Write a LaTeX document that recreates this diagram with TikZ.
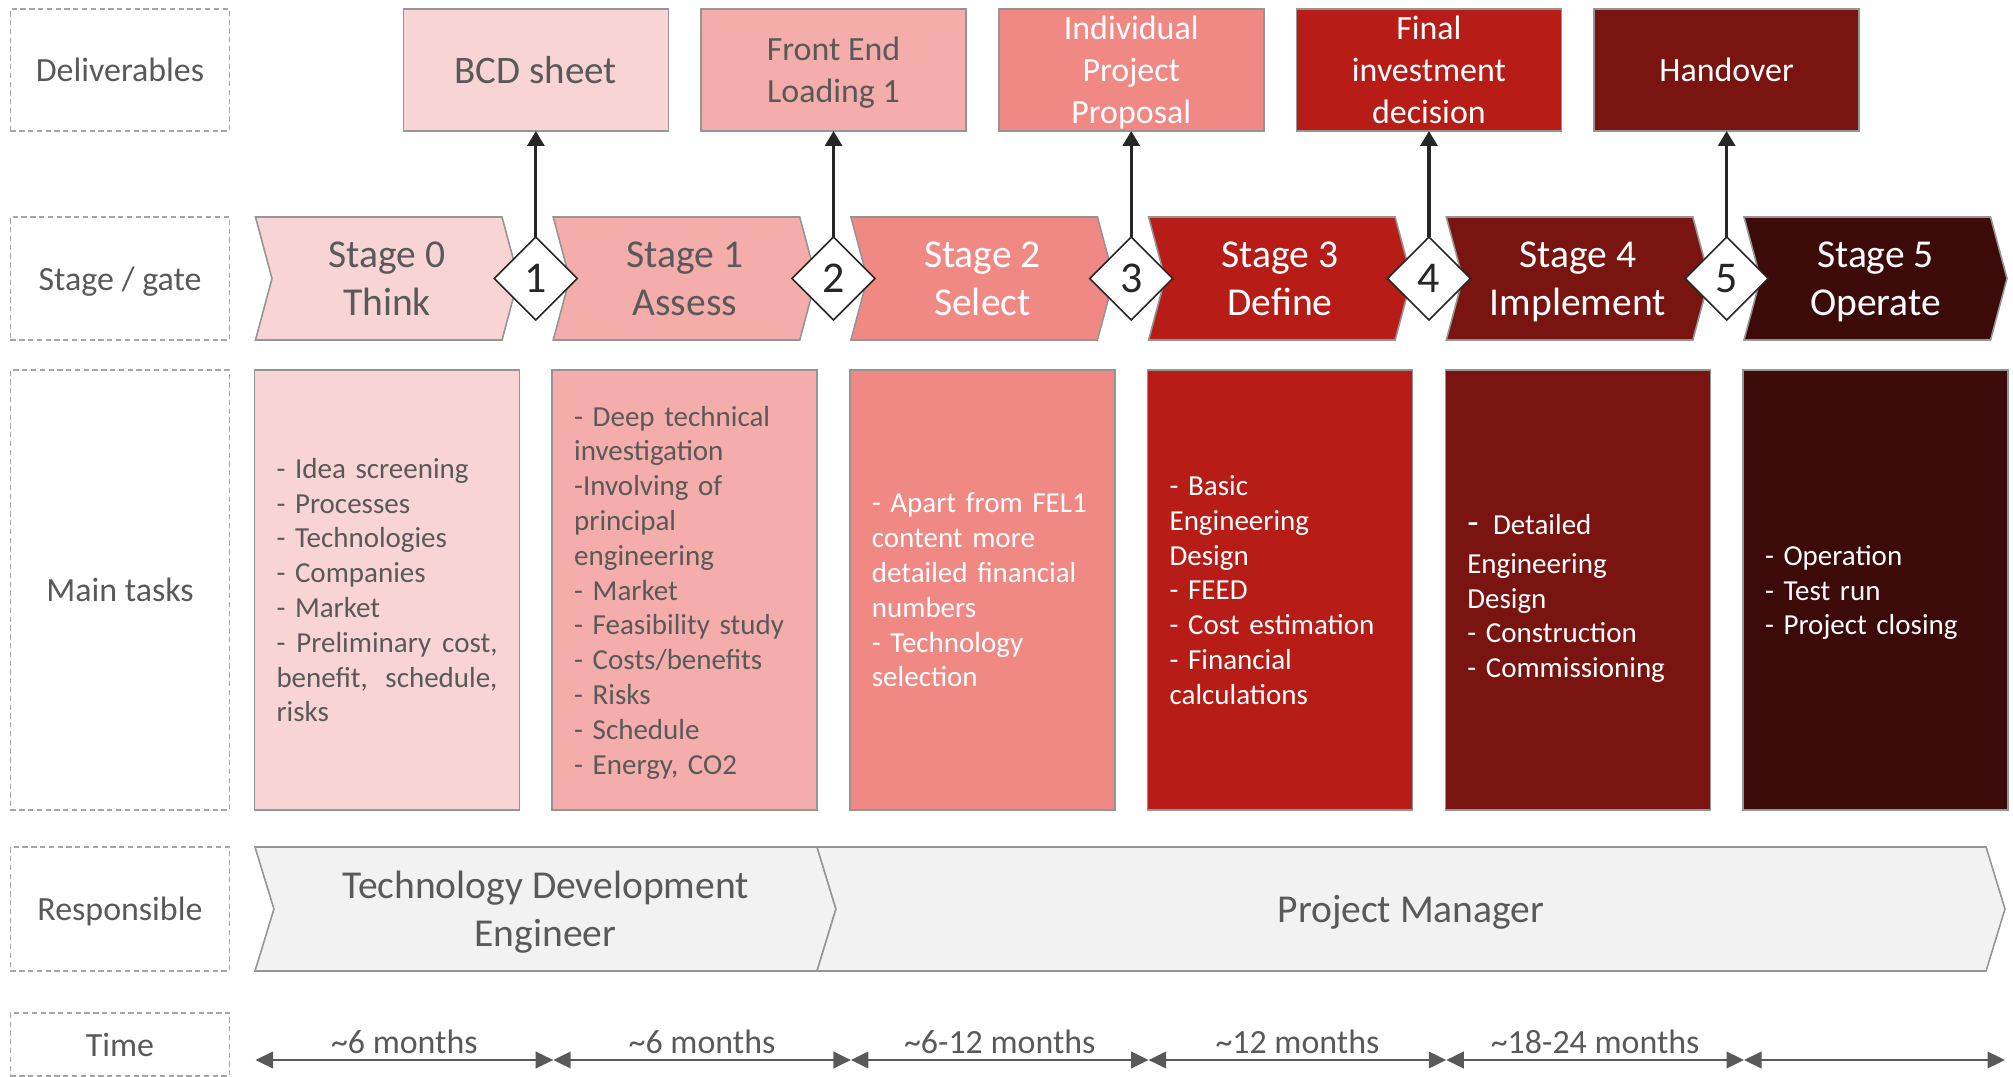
\documentclass[tikz,border=0pt]{standalone}
\usepackage{fontspec}
\setmainfont{Carlito}
\usepackage{tikz}
\usetikzlibrary{
  shapes.geometric, shapes.symbols,
  arrows.meta, positioning
}
\definecolor{stg0}      {HTML}{F8D5D4}
\definecolor{stg1}      {HTML}{F4ADAB}
\definecolor{stg2}      {HTML}{F08884}
\definecolor{stg3}      {HTML}{B71C17}
\definecolor{stg4}      {HTML}{7A1410}
\definecolor{stg5}      {HTML}{3C0A09}
\definecolor{greytext}  {HTML}{595959}
\definecolor{edgegrey}  {HTML}{959595}
\definecolor{dashgrey}  {HTML}{A6A6A6}
\definecolor{rolefill}  {HTML}{F2F2F2}
\definecolor{darkline}  {HTML}{262626}
\definecolor{arrowgrey} {HTML}{595959}

\newcommand\stagefont{\fontsize{22.5}{27.4}\selectfont}
\newcommand\delivfont{\fontsize{19.3}{23.8}\selectfont}
\newcommand\taskfont{\fontsize{16.5}{19.8}\selectfont}
\newcommand\lanefont{\fontsize{19.3}{23}\selectfont}
\newcommand\gatefont{\fontsize{25}{30}\selectfont}

\tikzset{
  lanelabel/.style={
    rectangle, minimum width=4.38cm, outer sep=0pt,
    draw=dashgrey, dash pattern=on 3pt off 2pt, line width=0.9pt,
    text=greytext, font=\lanefont, text depth=0pt
  },
  stagebox/.style={
    signal, signal from=west, signal to=east, signal pointer angle=150,
    minimum width=5.26cm, minimum height=2.46cm, inner sep=0pt,
    draw=edgegrey, line width=0.9pt, fill=#1,
    font=\stagefont, align=center, text depth=0pt
  },
  % last descender left out of the centring
  taskbox/.style={
    rectangle, minimum width=5.3cm, minimum height=8.8cm,
    text width=4.42cm, inner sep=0pt, align=left,
    draw=edgegrey, line width=0.9pt, fill=#1, font=\taskfont,
    execute at end node={\par\vspace{-\prevdepth}}
  },
  delivbox/.style={
    rectangle, minimum width=5.3cm, minimum height=2.44cm,
    inner sep=0pt, outer sep=0pt,
    draw=edgegrey, line width=0.9pt, fill=#1,
    font=\delivfont, align=center, text depth=0pt
  },
  gatenode/.style={
    diamond, aspect=1, minimum width=1.66cm, minimum height=1.66cm,
    inner sep=0pt, outer sep=0pt, draw=darkline, line width=0.9pt,
    fill=white, text=darkline, font=\gatefont
  },
  rolebar/.style={
    signal, signal from=west, signal to=east, signal pointer angle=146,
    minimum height=2.48cm, inner sep=0pt,
    draw=edgegrey, line width=0.9pt, fill=rolefill,
    text=greytext, font=\stagefont, align=center, text depth=0pt
  },
  myarrow/.style={-{Triangle[length=0.3cm,width=0.34cm]},
    line width=1.8pt, draw=darkline},
  timearrow/.style={
    {Triangle[length=0.35cm,width=0.33cm]}-{Triangle[length=0.35cm,width=0.33cm]},
    line width=1.3pt, draw=arrowgrey}
}

\begin{document}
\begin{tikzpicture}
  \useasboundingbox (0,0) rectangle (40.26,-21.54);

  % row titles down the left side
  \node[lanelabel, minimum height=2.44cm] (ldel) at (2.40,-1.40) {Deliverables};
  \node[lanelabel, minimum height=2.46cm, below=1.72cm of ldel] (lstg) {Stage / gate};
  \node[lanelabel, minimum height=8.80cm, below=0.60cm of lstg] (ltsk) {Main tasks};
  \node[lanelabel, minimum height=2.48cm, below=0.74cm of ltsk] (lres) {Responsible};
  \node[lanelabel, minimum height=1.26cm, below=0.84cm of lres] (ltim) {Time};

  % stages
  \foreach \i/\nm/\fg in {0/Think/greytext, 1/Assess/greytext, 2/Select/white,
                          3/Define/white, 4/Implement/white, 5/Operate/white}{
    \node[stagebox=stg\i, text=\fg] (s\i) at ({7.74+5.954*\i},-5.57)
      {Stage \i\\\nm};
  }

  % main tasks
  \node[taskbox=stg0, text=greytext] (t0) at (7.74,-11.8)
    {- Idea screening\\- Processes\\- Technologies\\- Companies\\- Market\\
     -\hfill Preliminary\hfill cost,\\benefit,\hfill schedule,\\risks};
  \node[taskbox=stg1, text=greytext] (t1) at (13.694,-11.8)
    {- Deep technical\\investigation\\-Involving of\\principal\\engineering\\
     - Market\\- Feasibility study\\- Costs/benefits\\- Risks\\- Schedule\\
     - Energy, CO2};
  \node[taskbox=stg2, text=white] (t2) at (19.648,-11.8)
    {- Apart from FEL1\\content more\\detailed financial\\numbers\\
     - Technology\\selection};
  \node[taskbox=stg3, text=white] (t3) at (25.602,-11.8)
    {- Basic\\Engineering\\Design\\- FEED\\- Cost estimation\\- Financial\\
     calculations};
  \node[taskbox=stg4, text=white] (t4) at (31.556,-11.8)
    {\rule{0pt}{18.5pt}{\fontsize{21}{24}\selectfont -}\enspace Detailed\\[2pt]
     Engineering\\Design\\- Construction\\- Commissioning};
  \node[taskbox=stg5, text=white] (t5) at (37.51,-11.8)
    {- Operation\\- Test run\\- Project closing};

  % gates and what each one hands over
  \foreach \i in {1,...,5}{
    \node[gatenode] (g\i) at ({10.717+5.954*(\i-1)},-5.57) {\i};
  }
  \node[delivbox=stg0, text=greytext, font=\fontsize{22.2}{27}\selectfont,
        above=2.12cm of g1] (d1) {BCD sheet};
  \node[delivbox=stg1, text=greytext, above=2.12cm of g2] (d2)
    {Front End\\Loading 1};
  \node[delivbox=stg2, text=white, above=2.12cm of g3] (d3)
    {Individual\\Project\\Proposal};
  \node[delivbox=stg3, text=white, above=2.12cm of g4] (d4)
    {Final\\investment\\decision};
  \node[delivbox=stg4, text=white, above=2.12cm of g5] (d5) {Handover};

  \foreach \i in {1,...,5}{
    \draw[myarrow] (g\i.north) -- (d\i.south);
  }

  % who is in charge
  \node[rolebar, minimum width=11.62cm] (tde) at (10.91,-18.18)
    {Technology Development\\Engineer};
  \node[rolebar, minimum width=23.76cm] (pm) at (28.22,-18.18)
    {Project Manager};

  % durations
  \foreach \i/\x in {0/5.11, 1/11.064, 2/17.018, 3/22.972,
                     4/28.926, 5/34.88, 6/40.10}{
    \coordinate (c\i) at (\x,-21.2);
  }
  \foreach \a/\b/\txt in {0/1/6 months, 1/2/6 months, 2/3/6-12 months,
                          3/4/12 months, 4/5/18-24 months}{
    \draw[timearrow] (c\a) -- node[midway, yshift=0.36cm, text=greytext,
      font=\lanefont] {\textasciitilde\txt} (c\b);
  }
  \draw[timearrow] (c5) -- (c6);

\end{tikzpicture}
\end{document}
